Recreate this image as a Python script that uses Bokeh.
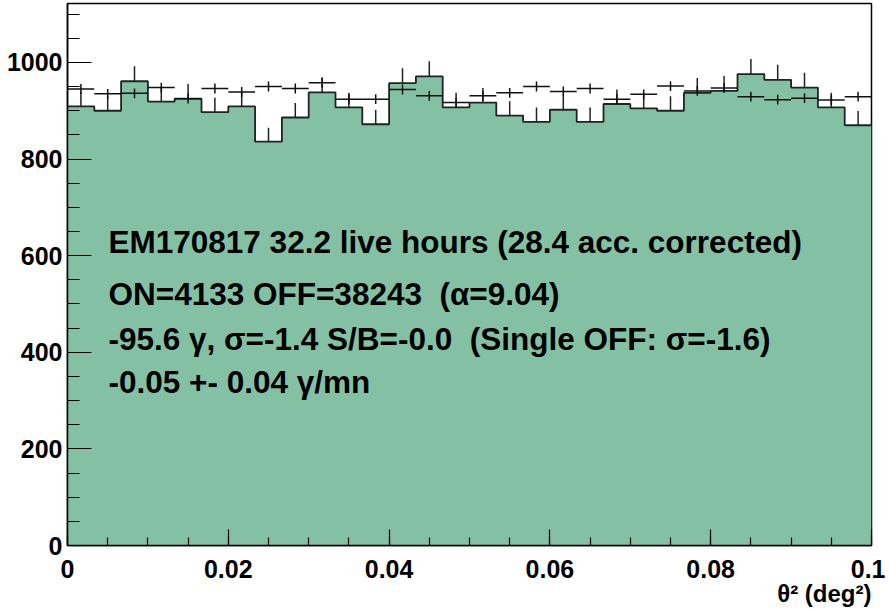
import numpy as np
from bokeh.plotting import figure
from bokeh.models import Range1d, FixedTicker, Label, Title
from bokeh.embed import file_html
from bokeh.resources import INLINE

# ---- data ----
n_bins = 30
bin_edges = np.linspace(0.0, 0.1, n_bins + 1)

# filled histogram (ON) counts per bin
on_counts = [909, 900, 961, 919, 925, 897, 909, 836, 886, 938,
             907, 872, 957, 971, 907, 917, 890, 877, 902, 877,
             914, 905, 900, 937, 941, 976, 964, 948, 907, 870]
on_err = [30.1, 30.0, 31.0, 30.3, 30.4, 29.9, 30.1, 28.9, 29.8, 30.6,
          30.1, 29.5, 30.9, 31.2, 30.1, 30.3, 29.8, 29.6, 30.0, 29.6,
          30.2, 30.1, 30.0, 30.6, 30.7, 31.2, 31.0, 30.8, 30.1, 29.5]

# scaled OFF counts per bin (crosses)
off_scaled = [945, 935, 936, 948, 925, 946, 939, 950, 946, 958,
              924, 924, 944, 931, 917, 931, 937, 950, 940, 946,
              924, 934, 951, 941, 947, 929, 923, 926, 922, 929]
off_err = [10.2, 10.2, 10.2, 10.2, 10.1, 10.2, 10.2, 10.3, 10.2, 10.3,
           10.1, 10.1, 10.2, 10.1, 10.1, 10.1, 10.2, 10.3, 10.2, 10.2,
           10.1, 10.2, 10.3, 10.2, 10.2, 10.1, 10.1, 10.1, 10.1, 10.1]

x_ticks = [0, 0.02, 0.04, 0.06, 0.08, 0.1]
x_tick_labels = ["0", "0.02", "0.04", "0.06", "0.08", "0.1"]
y_ticks = [0, 200, 400, 600, 800, 1000]

text_lines = ["EM170817 32.2 live hours (28.4 acc. corrected)",
              "ON=4133 OFF=38243 \u00a0(\u03b1=9.04)",
              "-95.6 \u03b3, \u03c3=-1.4 S/B=-0.0 \u00a0(Single OFF: \u03c3=-1.6)",
              "-0.05 +- 0.04 \u03b3/mn"]
text_y = [629, 521, 428, 339]
x_label = "\u03b8\u00b2 (deg\u00b2)"

# ---- plot ----
GREEN = "#84c1a4"
FONT = "Liberation Sans"

p = figure(width=885, height=612, x_range=Range1d(0, 0.1), y_range=Range1d(0, 1122),
           output_backend="svg", toolbar_location=None,
           min_border_left=67, min_border_right=14, min_border_top=3, min_border_bottom=67)
p.xgrid.visible = False
p.ygrid.visible = False
p.outline_line_color = "black"
p.outline_line_width = 1.5
p.background_fill_color = "white"
p.border_fill_color = "white"

lo = bin_edges[:-1]
hi = bin_edges[1:]
ctr = 0.5 * (lo + hi)
on = np.array(on_counts, dtype=float)
one = np.array(on_err)
off = np.array(off_scaled, dtype=float)
offe = np.array(off_err)

# ON error bars (lower half hidden by fill)
p.segment(ctr, on - one, ctr, on + one, line_color="#222222", line_width=1.5)
# filled histogram as one polygon
sx = np.repeat(bin_edges, 2)[1:-1]
sy = np.repeat(on, 2)
px = np.concatenate([[bin_edges[0]], sx, [bin_edges[-1]]])
py = np.concatenate([[0.0], sy, [0.0]])
p.patch(px, py, fill_color=GREEN, line_color=None)
# outline
p.line(sx, sy, line_color="#222222", line_width=1.8)
# OFF crosses
p.segment(lo, off, hi, off, line_color="#111111", line_width=1.5)
p.segment(ctr, off - offe, ctr, off + offe, line_color="#111111", line_width=1.5)

# axes
p.xaxis.ticker = FixedTicker(ticks=x_ticks, minor_ticks=[i * 0.005 for i in range(21)])
p.yaxis.ticker = FixedTicker(ticks=y_ticks, minor_ticks=list(range(0, 1101, 50)))
p.xaxis.major_label_overrides = {t: l for t, l in zip(x_ticks, x_tick_labels)}
for ax in (p.xaxis[0], p.yaxis[0]):
    ax.axis_line_color = "black"
    ax.axis_line_width = 1.5
    ax.major_tick_out = 0
    ax.minor_tick_out = 0
    ax.major_tick_line_color = "black"
    ax.minor_tick_line_color = "black"
    ax.major_tick_line_width = 1.2
    ax.minor_tick_line_width = 1.2
    ax.major_label_text_font = FONT
    ax.major_label_text_font_style = "bold"
    ax.major_label_text_font_size = "25px"
    ax.major_label_text_color = "black"
p.yaxis.major_tick_in = 24
p.yaxis.minor_tick_in = 12
p.xaxis.major_tick_in = 16
p.xaxis.minor_tick_in = 8
p.yaxis.major_label_standoff = 5
p.xaxis.major_label_standoff = 14

for txt, ty in zip(text_lines, text_y):
    p.add_layout(Label(x=0.0051, y=ty, text=txt, text_font=FONT, text_font_style="bold",
                       text_font_size="31.5px", text_color="black", text_baseline="alphabetic"))

p.add_layout(Title(text=x_label, align="right", text_font=FONT, text_font_style="bold",
                   text_font_size="24px", text_color="black", standoff=-5), "below")

open("out.html", "w").write(file_html(p, INLINE))
